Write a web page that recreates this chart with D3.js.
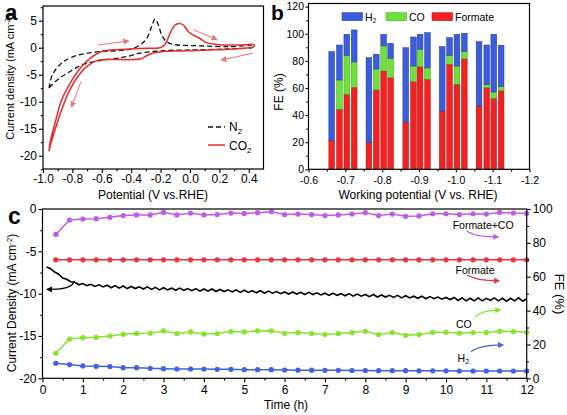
<!DOCTYPE html>
<html><head><meta charset="utf-8">
<script src="https://cdn.jsdelivr.net/npm/d3@7"></script>
<style>
body{margin:0;background:#fff;}
svg{display:block;font-family:Arial,"Liberation Sans",sans-serif;}
</style></head><body>
<svg id="chart" width="567" height="415"></svg>
<script>
// ================= Panel a : CV curves =================
const co2Potential = [-0.959,-0.952,-0.918,-0.873,-0.816,-0.748,-0.680,-0.601,-0.522,-0.408,-0.295,-0.204,-0.182,-0.159,-0.136,-0.102,-0.075,-0.045,-0.011,0.023,0.068,0.114,0.182,0.272,0.363,0.435,
  0.435,0.363,0.272,0.159,0.045,-0.068,-0.182,-0.250,-0.295,-0.329,-0.386,-0.476,-0.567,-0.635,-0.703,-0.771,-0.828,-0.873,-0.918,-0.952,-0.959];
const co2Current = [-19.2,-17.6,-13.95,-9.65,-6.6,-3.8,-1.97,-0.7,-0.4,-0.23,-0.1,0.0,0.3,1.1,2.65,4.2,4.5,4.2,2.95,2.35,1.7,0.9,0.6,0.5,0.5,0.6,
  0.2,-0.1,-0.3,-0.4,-0.5,-0.6,-0.7,-1.0,-1.5,-2.0,-2.2,-2.2,-2.2,-2.4,-3.5,-5.65,-8.4,-11.5,-15.2,-18.3,-19.2];
const n2Potential = [-0.959,-0.941,-0.907,-0.862,-0.794,-0.703,-0.612,-0.499,-0.408,-0.340,-0.295,-0.261,-0.238,-0.215,-0.193,-0.159,-0.113,0.045,0.272,0.431,
  0.431,0.272,0.045,-0.182,-0.340,-0.408,-0.476,-0.567,-0.635,-0.726,-0.816,-0.884,-0.941,-0.959];
const n2Current = [-7.5,-5.35,-3.8,-2.6,-1.65,-1.04,-0.73,-0.55,-0.3,0.5,1.7,3.9,5.3,4.2,2.4,1.1,0.6,0.37,0.2,0.4,
  0.1,-0.2,-0.4,-0.55,-1.0,-1.5,-1.9,-2.2,-2.5,-3.1,-4.4,-5.6,-6.9,-7.5];
const aXTicks = [-1.0,-0.8,-0.6,-0.4,-0.2,0.0,0.2,0.4];
const aXMinor = [-0.9,-0.7,-0.5,-0.3,-0.1,0.1,0.3];
const aYTicks = [5,0,-5,-10,-15,-20];
const aYMinor = [7.5,2.5,-2.5,-7.5,-12.5,-17.5,-22.5];
// scan-direction arrows [x1,y1,x2,y2] in data units
const aArrows = [[-0.624,0.5,-0.42,1.24],[0.027,3.27,0.18,1.55],[0.426,-1.04,0.215,-2.27],[-0.741,-6.27,-0.805,-10.9]];

// ================= Panel b : FE bars =================
const bPotentials = [-0.663,-0.684,-0.704,-0.724,-0.764,-0.784,-0.804,-0.823,-0.864,-0.885,-0.903,-0.923,-0.963,-0.983,-1.003,-1.023,-1.063,-1.084,-1.103,-1.123];
const bFormate = [21.5,44.3,55.3,60.5,19.9,58.5,72.5,67.6,34.9,64.7,75.7,66.4,43.0,77.5,62.7,81.4,46.7,60.2,52.4,58.0];
const bCO      = [0,21.6,28.8,18.7,0,15.5,18.5,14.3,0,11.5,12.9,8.4,0,6.6,13.5,5.4,0,2.2,4.6,3.0];
const bH2      = [65.3,25.8,15.5,23.6,62.5,10.9,8.6,11.1,54.8,21.4,11.0,26.0,47.5,13.0,23.4,13.6,47.5,29.3,42.6,30.5];
const bXTicks = [-0.6,-0.7,-0.8,-0.9,-1.0,-1.1,-1.2];
const bXMinor = [-0.65,-0.75,-0.85,-0.95,-1.05,-1.15];
const bYTicks = [0,20,40,60,80,100,120];
const bYMinor = [10,30,50,70,90,110];

// ================= Panel c : stability =================
const cTime = [0.33,0.67,1,1.33,1.67,2,2.33,2.67,3,3.33,3.67,4,4.33,4.67,5,5.33,5.67,6,6.33,6.67,7,7.33,7.67,8,8.33,8.67,9,9.33,9.67,10,10.33,10.67,11,11.33,11.67,12];
const cFormateCO = [85.0,93.5,94.1,94.3,95.1,96.1,96.5,96.5,98.0,96.5,97.6,96.5,96.7,97.6,97.4,97.8,98.4,96.7,97.0,96.7,96.1,96.5,97.0,97.8,96.1,97.0,95.7,95.9,97.2,97.2,96.7,97.2,97.0,98.0,97.6,97.4];
const cFormate = [70,70,70,70,70,70,70,70,70,70,70,70,70,70,70,70,70,70,70,70,70,70,70,70,70,70,70,70,70,70,70,70,70,70,70,70];
const cCO = [14.8,23.2,24.0,24.2,25.0,26.0,26.4,26.6,28.0,26.4,27.4,26.2,26.4,27.6,27.4,28.0,28.1,26.6,27.0,26.4,25.8,26.4,27.0,27.8,25.8,27.0,25.4,25.8,27.2,27.2,26.6,27.0,27.0,27.8,27.6,27.2];
const cH2 = [8.9,8.1,7.3,7.1,6.9,6.3,6.3,5.9,5.7,5.5,5.5,5.5,5.3,5.3,5.1,5.1,5.1,4.9,4.8,4.8,4.7,4.7,4.6,4.6,4.5,4.5,4.5,4.4,4.4,4.4,4.3,4.3,4.3,4.3,4.3,4.3];
const jTime = [0.1,0.2,0.3,0.4,0.5,0.6,0.7,0.8,0.9,1.0,1.1,1.2,1.3,1.4,1.5,1.6,1.7,1.8,1.9,2.0,2.1,2.2,2.3,2.4,2.5,2.6,2.7,2.8,2.9,3.0,
  3.1,3.2,3.3,3.4,3.5,3.6,3.7,3.8,3.9,4.0,4.1,4.2,4.3,4.4,4.5,4.6,4.7,4.8,4.9,5.0,5.1,5.2,5.3,5.4,5.5,5.6,5.7,5.8,5.9,6.0,
  6.1,6.2,6.3,6.4,6.5,6.6,6.7,6.8,6.9,7.0,7.1,7.2,7.3,7.4,7.5,7.6,7.7,7.8,7.9,8.0,8.1,8.2,8.3,8.4,8.5,8.6,8.7,8.8,8.9,9.0,
  9.1,9.2,9.3,9.4,9.5,9.6,9.7,9.8,9.9,10.0,10.1,10.2,10.3,10.4,10.5,10.6,10.7,10.8,10.9,11.0,11.1,11.2,11.3,11.4,11.5,11.6,11.7,11.8,11.9,12.0];
const jCurrent = [-6.85,-7.05,-7.45,-7.7,-8.15,-8.3,-8.6,-8.65,-8.95,-8.8,-9.05,-8.9,-9.15,-8.95,-9.2,-9.0,-9.3,-9.05,-9.35,-9.1,
  -9.4,-9.15,-9.4,-9.2,-9.45,-9.2,-9.5,-9.25,-9.55,-9.3,-9.55,-9.35,-9.6,-9.35,-9.6,-9.4,-9.65,-9.4,-9.7,-9.45,
  -9.7,-9.45,-9.75,-9.5,-9.75,-9.55,-9.8,-9.55,-9.85,-9.6,-9.85,-9.65,-9.9,-9.65,-9.95,-9.7,-9.95,-9.75,-10.0,-9.8,
  -10.05,-9.8,-10.05,-9.85,-10.1,-9.85,-10.1,-9.9,-10.15,-9.95,-10.2,-9.95,-10.2,-10.0,-10.25,-10.0,-10.3,-10.05,-10.3,-10.1,
  -10.35,-10.1,-10.4,-10.15,-10.4,-10.2,-10.45,-10.2,-10.5,-10.25,-10.5,-10.3,-10.55,-10.3,-10.6,-10.35,-10.6,-10.4,-10.65,-10.45,
  -10.7,-10.45,-10.8,-10.5,-10.85,-10.55,-10.85,-10.5,-10.85,-10.55,-10.8,-10.5,-10.85,-10.55,-10.9,-10.55,-10.85,-10.5,-10.9,-10.6];
const cXTicks = [0,1,2,3,4,5,6,7,8,9,10,11,12];
const cXMinor = [0.5,1.5,2.5,3.5,4.5,5.5,6.5,7.5,8.5,9.5,10.5,11.5];
const cYLTicks = [0,-5,-10,-15,-20];
const cYLMinor = [-2.5,-7.5,-12.5,-17.5];
const cYRTicks = [0,20,40,60,80,100];
const cYRMinor = [10,30,50,70,90];

const FONT = 'Arial,"Liberation Sans",sans-serif';
const svg = d3.select("#chart");
const defs = svg.append("defs");
function marker(id, color, size) {
  defs.append("marker").attr("id", id).attr("viewBox", "0 0 10 10").attr("refX", 8).attr("refY", 5)
    .attr("markerWidth", size).attr("markerHeight", size).attr("orient", "auto").attr("markerUnits","userSpaceOnUse")
    .append("path").attr("d", "M0,0 L10,5 L0,10 z").attr("fill", color);
}
const hy = s => s.replace(/\u2212/g, "-");

function drawAxis(axisFn, scale, ticks, minors, fmt, size, pad, fs, tr) {
  const g = svg.append("g").attr("transform", tr);
  const m = g.append("g").call(axisFn(scale).tickValues(ticks).tickFormat(fmt).tickSize(size).tickPadding(pad).tickSizeOuter(0));
  m.select(".domain").remove();
  m.attr("font-size", fs).attr("font-family", FONT);
  m.selectAll("line").attr("stroke", "#000").attr("stroke-width", 1.1);
  m.selectAll("text").attr("fill", "#000");
  const n = g.append("g").call(axisFn(scale).tickValues(minors).tickFormat("").tickSize(2.2).tickSizeOuter(0));
  n.select(".domain").remove();
  n.selectAll("line").attr("stroke", "#000").attr("stroke-width", 1.1);
}
function box(x0, y0, x1, y1) {
  svg.append("rect").attr("x", x0).attr("y", y0).attr("width", x1 - x0).attr("height", y1 - y0)
    .attr("fill", "none").attr("stroke", "#000").attr("stroke-width", 1.2);
}
function label(txt, x, y, opts = {}) {
  const t = svg.append("text").attr("x", x).attr("y", y).attr("font-family", FONT)
    .attr("font-size", opts.fs || 12).attr("fill", opts.fill || "#000")
    .attr("text-anchor", opts.anchor || "start").attr("font-weight", opts.bold ? "bold" : "normal").text(txt);
  if (opts.rot) t.attr("transform", `rotate(${opts.rot},${x},${y})`);
  return t;
}

// ------------ Panel a ------------
const ax = d3.scaleLinear().domain([-1.0, 0.5]).range([43, 263.5]);
const ay = d3.scaleLinear().domain([-22.46, 7.72]).range([169, 6]);
const cvLine = d3.line().x(d => ax(d[0])).y(d => ay(d[1])).curve(d3.curveCatmullRom.alpha(0.5));
svg.append("path").datum(n2Potential.map((p, i) => [p, n2Current[i]])).attr("d", cvLine)
  .attr("fill", "none").attr("stroke", "#111").attr("stroke-width", 1.3).attr("stroke-dasharray", "5,3");
svg.append("path").datum(co2Potential.map((p, i) => [p, co2Current[i]])).attr("d", cvLine)
  .attr("fill", "none").attr("stroke", "#ee2a2a").attr("stroke-width", 1.5);
marker("arrA", "#f07070", 6);
aArrows.forEach(a => {
  svg.append("line").attr("x1", ax(a[0])).attr("y1", ay(a[1])).attr("x2", ax(a[2])).attr("y2", ay(a[3]))
    .attr("stroke", "#f07070").attr("stroke-width", 1).attr("marker-end", "url(#arrA)");
});
box(43, 6, 263.5, 169);
drawAxis(d3.axisBottom, ax, aXTicks, aXMinor, d => hy(d3.format(".1f")(d)), 4, 1, 12, "translate(0,169)");
drawAxis(d3.axisLeft, ay, aYTicks, aYMinor, d => hy(d3.format("d")(d)), 4, 2, 12, "translate(43,0)");
label("Potential (V vs.RHE)", 153, 199, {anchor: "middle"});
{
  const t = label("", 14, 77, {anchor: "middle", rot: -90, fs: 11});
  t.append("tspan").text("Current density (mA cm");
  t.append("tspan").attr("baseline-shift", "super").attr("font-size", 7.5).text("-2");
  t.append("tspan").text(")");
}
// legend a
svg.append("line").attr("x1", 208).attr("x2", 225).attr("y1", 127).attr("y2", 127)
  .attr("stroke", "#111").attr("stroke-width", 1.3).attr("stroke-dasharray", "5,3");
svg.append("line").attr("x1", 208).attr("x2", 225).attr("y1", 145).attr("y2", 145)
  .attr("stroke", "#ee2a2a").attr("stroke-width", 1.5);
{
  const t1 = label("N", 229, 131);
  t1.append("tspan").attr("font-size", 8).attr("dy", 3).text("2");
  const t2 = label("CO", 229, 149.5);
  t2.append("tspan").attr("font-size", 8).attr("dy", 3).text("2");
}
label("a", 5, 20, {fs: 22, bold: true});

// ------------ Panel b ------------
const bx = d3.scaleLinear().domain([-0.6, -1.2]).range([308.5, 529.5]);
const by = d3.scaleLinear().domain([0, 122.3]).range([169.3, 3.5]);
const barW = Math.abs(bx(0) - bx(0.0155));
const bRows = bPotentials.map((p, i) => ({p, Formate: bFormate[i], CO: bCO[i], H2: bH2[i]}));
const bKeys = ["Formate", "CO", "H2"];
const bFill = {H2: "#3a5ddb", CO: "#6ee23a", Formate: "#f22222"};
const bStroke = {H2: "#24399a", CO: "#3f9a1c", Formate: "#a01414"};
const stack = d3.stack().keys(bKeys)(bRows);
stack.forEach(layer => {
  svg.append("g").selectAll("rect").data(layer.filter(d => d[1] - d[0] > 0)).join("rect")
    .attr("x", d => bx(d.data.p) - barW / 2).attr("width", barW)
    .attr("y", d => by(d[1])).attr("height", d => by(d[0]) - by(d[1]))
    .attr("fill", bFill[layer.key]).attr("stroke", bStroke[layer.key]).attr("stroke-width", 0.5);
});
box(308.5, 3.5, 529.5, 169.3);
drawAxis(d3.axisBottom, bx, bXTicks, bXMinor, d => hy(d3.format(".1f")(d)), 3, 4, 10.5, "translate(0,169.3)");
drawAxis(d3.axisLeft, by, bYTicks, bYMinor, d => d3.format("d")(d), 3, 1.5, 10.5, "translate(308.5,0)");
label("Working potential (V vs. RHE)", 418, 199, {anchor: "middle"});
label("FE (%)", 283, 92, {anchor: "middle", rot: -90});
// legend b
[["H2", 342, 365], ["CO", 386, 409], ["Formate", 432, 455]].forEach(([k, rx, tx]) => {
  svg.append("rect").attr("x", rx).attr("y", 12.7).attr("width", 20.5).attr("height", 8)
    .attr("fill", bFill[k]).attr("stroke", bStroke[k]).attr("stroke-width", 0.5);
  const t = label(k === "H2" ? "H" : k, tx, 20.5, {fs: 10.5});
  if (k === "H2") t.append("tspan").attr("font-size", 7).attr("dy", 2.5).text("2");
});
label("b", 271, 20, {fs: 21, bold: true});

// ------------ Panel c ------------
const cx = d3.scaleLinear().domain([0, 12]).range([42.5, 526.7]);
const cyL = d3.scaleLinear().domain([-20, 0]).range([378.3, 209]);
const cyR = d3.scaleLinear().domain([0, 100]).range([378.3, 209]);
svg.append("path").datum(jTime.map((t, i) => [t, jCurrent[i]]))
  .attr("d", d3.line().x(d => cx(d[0])).y(d => cyL(d[1])))
  .attr("fill", "none").attr("stroke", "#000").attr("stroke-width", 1.6);
const cSeries = [
  {v: cFormateCO, color: "#c25ae6"},
  {v: cFormate, color: "#f2303e"},
  {v: cCO, color: "#84e52c"},
  {v: cH2, color: "#4161e0"}
];
cSeries.forEach(s => {
  const pts = cTime.map((t, i) => [t, s.v[i]]);
  svg.append("path").datum(pts).attr("d", d3.line().x(d => cx(d[0])).y(d => cyR(d[1])))
    .attr("fill", "none").attr("stroke", s.color).attr("stroke-width", 1.5);
  svg.append("g").selectAll("circle").data(pts).join("circle")
    .attr("cx", d => cx(d[0])).attr("cy", d => cyR(d[1])).attr("r", 2.6).attr("fill", s.color);
});
box(42.5, 209, 526.7, 378.3);
drawAxis(d3.axisBottom, cx, cXTicks, cXMinor, d => d3.format("d")(d), 4, 3, 12, "translate(0,378.3)");
drawAxis(d3.axisLeft, cyL, cYLTicks, cYLMinor, d => hy(d3.format("d")(d)), 4, 2, 12, "translate(42.5,0)");
drawAxis(d3.axisRight, cyR, cYRTicks, cYRMinor, d => d3.format("d")(d), 4, 2, 12, "translate(526.7,0)");
label("Time (h)", 286, 409, {anchor: "middle"});
{
  const t = label("", 16, 303, {anchor: "middle", rot: -90});
  t.append("tspan").text("Current Density (mA cm");
  t.append("tspan").attr("baseline-shift", "super").attr("font-size", 8).text("-2");
  t.append("tspan").text(")");
}
label("FE (%)", 555, 294, {anchor: "middle", rot: 90, fs: 13});
label("c", 8, 224, {fs: 23, bold: true});
const cNotes = [
  {txt: "Formate+CO", tx: 10.92, ty: 90.5, color: "#c25ae6", arr: [[10.51, 87.2], [10.72, 83.4], [11.29, 83.6]], axis: "R"},
  {txt: "Formate", tx: 10.72, ty: 64.0, color: "#f2303e", arr: [[10.52, 61.0], [10.77, 57.5], [11.31, 57.6]], axis: "R"},
  {txt: "CO", tx: 10.44, ty: 32.0, color: "#84e52c", arr: [[10.72, 36.4], [10.89, 40.3], [11.34, 40.3]], axis: "R"},
  {txt: "H2", tx: 10.43, ty: 12.0, color: "#4161e0", arr: [[10.62, 15.7], [10.84, 19.7], [11.41, 19.7]], axis: "R"},
  {txt: "", color: "#000", arr: [[0.79, -8.5], [0.74, -9.57], [0.12, -9.49]], axis: "L"}
];
cNotes.forEach((n, i) => {
  const ys = n.axis === "R" ? cyR : cyL;
  const mid = "arrC" + i;
  marker(mid, n.color, 6);
  const p = n.arr.map(d => [cx(d[0]), ys(d[1])]);
  svg.append("path").attr("d", `M${p[0][0]},${p[0][1]} Q${p[1][0]},${p[1][1]} ${p[2][0]},${p[2][1]}`)
    .attr("fill", "none").attr("stroke", n.color).attr("stroke-width", 1.3).attr("marker-end", `url(#${mid})`);
  if (n.txt) {
    const t = label(n.txt === "H2" ? "H" : n.txt, cx(n.tx), cyR(n.ty) + 3.8, {anchor: "middle", fs: 10.5});
    if (n.txt === "H2") t.append("tspan").attr("font-size", 7).attr("dy", 2.5).text("2");
  }
});
</script>
</body></html>
